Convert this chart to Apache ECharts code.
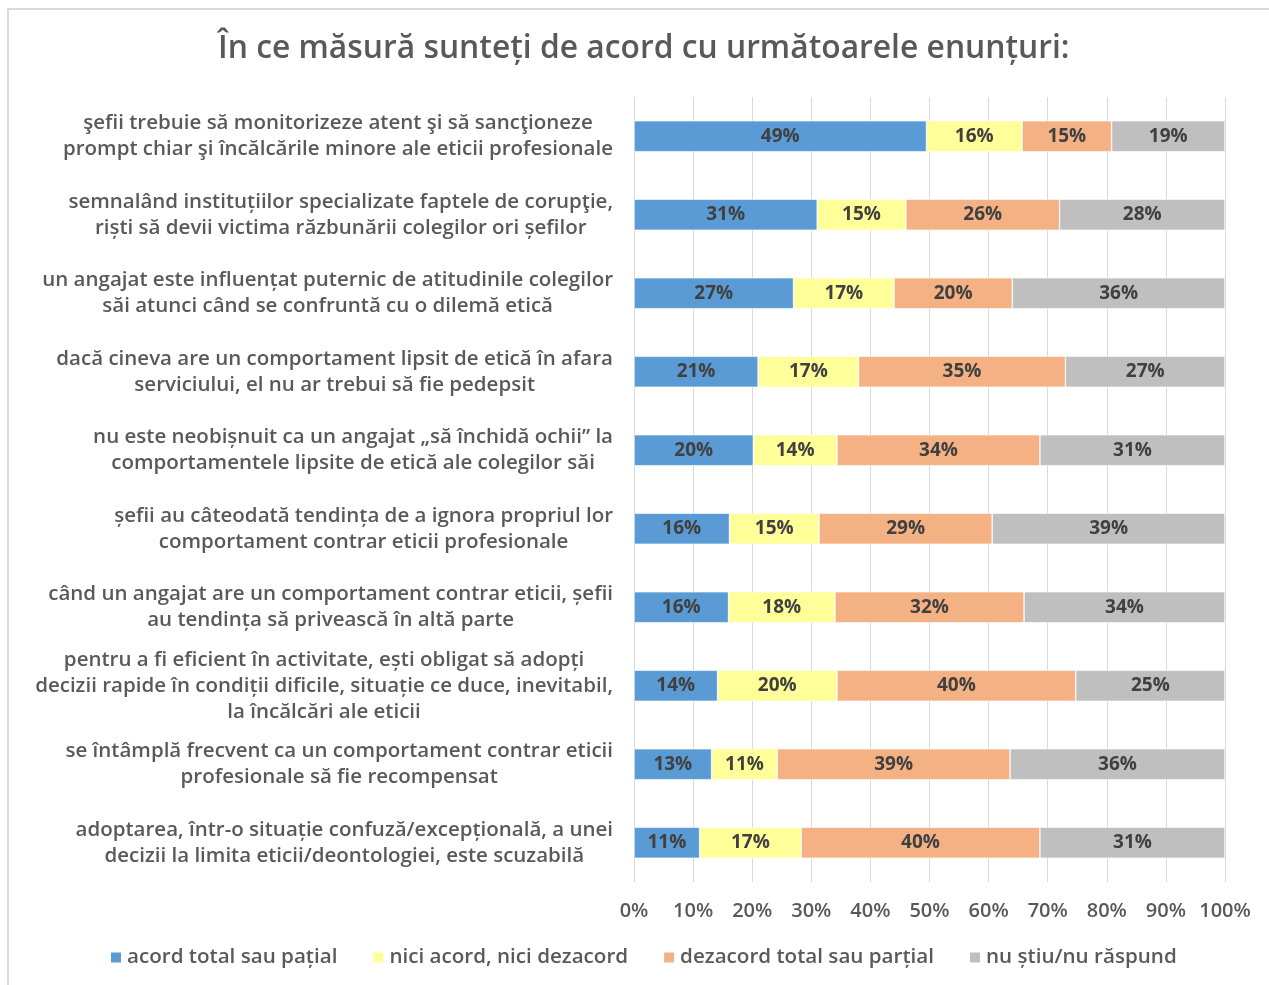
<!DOCTYPE html>
<html>
<head>
<meta charset="utf-8">
<script src="https://cdn.jsdelivr.net/npm/echarts@6/dist/echarts.min.js"></script>
<style>
  html, body { margin: 0; padding: 0; background: #fff; }
  #main { width: 1269px; height: 985px; }
</style>
</head>
<body>
<div id="main"></div>
<script>
// statements, top to bottom
var categories = [
  "şefii trebuie să monitorizeze atent şi să sancţioneze\nprompt chiar şi încălcările minore ale eticii profesionale",
  "semnalând instituțiilor specializate faptele de corupţie,\nriști să devii victima răzbunării colegilor ori șefilor",
  "un angajat este influențat puternic de atitudinile colegilor\nsăi atunci când se confruntă cu o dilemă etică",
  "dacă cineva are un comportament lipsit de etică în afara\nserviciului, el nu ar trebui să fie pedepsit",
  "nu este neobișnuit ca un angajat „să închidă ochii” la\ncomportamentele lipsite de etică ale colegilor săi",
  "șefii au câteodată tendința de a ignora propriul lor\ncomportament contrar eticii profesionale",
  "când un angajat are un comportament contrar eticii, șefii\nau tendința să privească în altă parte",
  "pentru a fi eficient în activitate, ești obligat să adopți\ndecizii rapide în condiții dificile, situație ce duce, inevitabil,\nla încălcări ale eticii",
  "se întâmplă frecvent ca un comportament contrar eticii\nprofesionale să fie recompensat",
  "adoptarea, într-o situație confuză/excepțională, a unei\ndecizii la limita eticii/deontologiei, este scuzabilă"
];

var seriesNames = [
  "acord total sau pațial",
  "nici acord, nici dezacord",
  "dezacord total sau parțial",
  "nu știu/nu răspund"
];

var acord     = [49, 31, 27, 21, 20, 16, 16, 14, 13, 11];
var neutru    = [16, 15, 17, 17, 14, 15, 18, 20, 11, 17];
var dezacord  = [15, 26, 20, 35, 34, 29, 32, 40, 39, 40];
var nuStiu    = [19, 28, 36, 27, 31, 39, 34, 25, 36, 31];

var colors = ["#5B9BD5", "#FFFF99", "#F4B183", "#BFBFBF"];

var allSeries = [acord, neutru, dezacord, nuStiu];

// 100% stacked: normalise each row by its total
var totals = categories.map(function (c, i) {
  return allSeries.reduce(function (s, arr) { return s + arr[i]; }, 0);
});

var chartDom = document.getElementById("main");
var myChart = echarts.init(chartDom);

var labelFont = "'Open Sans', 'Noto Sans', sans-serif";

var series = allSeries.map(function (arr, k) {
  return {
    name: seriesNames[k],
    type: "bar",
    stack: "total",
    barWidth: 31,
    itemStyle: { color: colors[k], borderColor: "#fff", borderWidth: 0.6 },
    label: {
      show: true,
      position: "inside",
      fontFamily: labelFont,
      fontWeight: 700,
      fontSize: 19,
      color: "#404040",
      formatter: function (p) { return arr[p.dataIndex] + "%"; }
    },
    data: arr.map(function (v, i) { return v / totals[i] * 100; })
  };
});

var option = {
  backgroundColor: "#fff",
  animation: false,
  color: colors,
  title: {
    text: "În ce măsură sunteți de acord cu următoarele enunțuri:",
    left: 213,
    top: 28,
    textStyle: {
      fontFamily: labelFont,
      fontWeight: 600,
      fontSize: 31.8,
      color: "#595959"
    }
  },
  legend: {
    bottom: 12,
    left: 104,
    itemWidth: 12,
    itemHeight: 12,
    itemGap: 34,
    icon: "rect",
    textStyle: {
      fontFamily: labelFont,
      fontWeight: 600,
      fontSize: 20.6,
      color: "#595959"
    },
    data: seriesNames
  },
  grid: {
    left: 634,
    right: 44,
    top: 97,
    bottom: 103
  },
  xAxis: {
    type: "value",
    min: 0,
    max: 100,
    interval: 10,
    axisLine: { show: false },
    axisTick: { show: false },
    splitLine: { lineStyle: { color: "#D9D9D9", width: 1 } },
    axisLabel: {
      margin: 19,
      fontFamily: labelFont,
      fontWeight: 600,
      fontSize: 20,
      color: "#595959",
      formatter: "{value}%"
    }
  },
  yAxis: {
    type: "category",
    inverse: true,
    data: categories,
    axisLine: { show: false },
    axisTick: { show: false },
    axisLabel: {
      margin: 21,
      align: "right",
      formatter: function (v) {
        return v.split("\n").map(function (l) { return "{c|" + l + "}"; }).join("\n");
      },
      rich: {
        c: {
          align: "center",
          fontFamily: labelFont,
          fontWeight: 600,
          fontSize: 20.5,
          lineHeight: 26,
          color: "#595959"
        }
      }
    }
  },
  graphic: [
    {
      type: "rect",
      shape: { x: 8, y: 9, width: 1300, height: 1000 },
      style: { fill: "none", stroke: "#D9D9D9", lineWidth: 2 },
      silent: true
    }
  ],
  series: series
};

myChart.setOption(option);
</script>
</body>
</html>
